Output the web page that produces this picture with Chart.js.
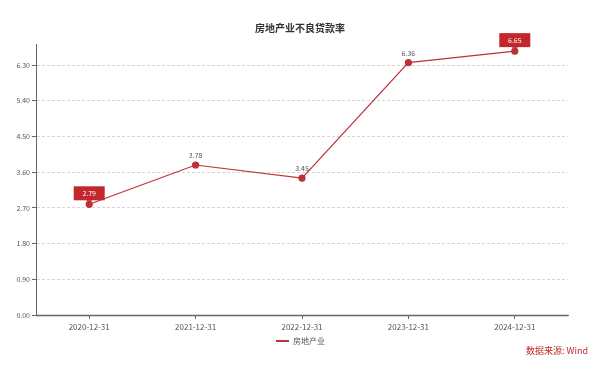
<!DOCTYPE html>
<html>
<head>
<meta charset="utf-8">
<script src="https://cdn.jsdelivr.net/npm/chart.js@4/dist/chart.umd.min.js"></script>
<style>
html,body{margin:0;padding:0;background:#fff;}
#wrap{width:600px;height:367px;position:relative;}
</style>
</head>
<body>
<div id="wrap"><canvas id="c" width="600" height="367"></canvas></div>
<script>
const categories = ["2020-12-31","2021-12-31","2022-12-31","2023-12-31","2024-12-31"];
const values = [2.79, 3.78, 3.45, 6.36, 6.65];
const yTicks = [0, 0.9, 1.8, 2.7, 3.6, 4.5, 5.4, 6.3];
const seriesName = "房地产业";
const titleText = "房地产业不良贷款率";
const sourceText = "数据来源: Wind";

const RED = '#bd3138';
const RED_DARK = '#c1272d';
const FONT = '"Noto Sans CJK SC","Noto Sans",sans-serif';

const deco = {
  id: 'deco',
  beforeDatasetsDraw(chart) {
    const ctx = chart.ctx, a = chart.chartArea;
    ctx.save();
    ctx.strokeStyle = '#666';
    ctx.lineWidth = 1;
    ctx.setLineDash([]);
    ctx.beginPath();
    ctx.moveTo(a.left + 0.5, a.top);
    ctx.lineTo(a.left + 0.5, a.bottom);
    ctx.stroke();
    ctx.lineWidth = 1.5;
    ctx.beginPath();
    ctx.moveTo(a.left, a.bottom + 0.5);
    ctx.lineTo(a.right, a.bottom + 0.5);
    ctx.stroke();
    ctx.restore();
  },
  afterDatasetsDraw(chart) {
    const ctx = chart.ctx;
    const meta = chart.getDatasetMeta(0);
    const maxV = Math.max(...values), minV = Math.min(...values);
    ctx.save();
    meta.data.forEach((pt, i) => {
      const v = values[i];
      const txt = v.toFixed(2);
      if (v === maxV || v === minV) {
        const w = 31, h = 14;
        const bx = pt.x - w / 2, by = pt.y - 4 - h;
        ctx.fillStyle = RED_DARK;
        ctx.fillRect(bx, by, w, h);
        ctx.beginPath();
        ctx.moveTo(pt.x - 3, by + h);
        ctx.lineTo(pt.x + 3, by + h);
        ctx.lineTo(pt.x, by + h + 3);
        ctx.closePath();
        ctx.fill();
        ctx.fillStyle = '#fff';
        ctx.font = '7px ' + FONT;
        ctx.textAlign = 'center';
        ctx.textBaseline = 'middle';
        ctx.fillText(txt, pt.x, by + h / 2 + 0.5);
      } else {
        ctx.fillStyle = '#555';
        ctx.font = '7px ' + FONT;
        ctx.textAlign = 'center';
        ctx.textBaseline = 'bottom';
        ctx.fillText(txt, pt.x, pt.y - 6);
      }
    });
    ctx.fillStyle = '#333';
    ctx.font = 'bold 10px ' + FONT;
    ctx.textAlign = 'center';
    ctx.textBaseline = 'middle';
    ctx.fillText(titleText, 300, 28);
    ctx.strokeStyle = RED;
    ctx.lineWidth = 2;
    ctx.beginPath();
    ctx.moveTo(276, 341);
    ctx.lineTo(289, 341);
    ctx.stroke();
    ctx.fillStyle = '#555';
    ctx.font = '8px ' + FONT;
    ctx.textAlign = 'left';
    ctx.fillText(seriesName, 293, 341);
    ctx.fillStyle = RED_DARK;
    ctx.font = '9px ' + FONT;
    ctx.textAlign = 'right';
    ctx.fillText(sourceText, 588, 351);
    ctx.restore();
  }
};

new Chart(document.getElementById('c'), {
  type: 'line',
  data: {
    labels: categories,
    datasets: [{
      label: seriesName,
      data: values,
      borderColor: RED,
      backgroundColor: RED,
      borderWidth: 1.2,
      pointRadius: 3,
      pointBackgroundColor: RED,
      pointBorderColor: RED,
      tension: 0
    }]
  },
  options: {
    responsive: false,
    animation: false,
    layout: { padding: { left: 0, right: 32, top: 44, bottom: 0 } },
    plugins: { legend: { display: false }, title: { display: false }, tooltip: { enabled: false } },
    scales: {
      x: {
        offset: true,
        afterFit(s) { s.height = 52; },
        border: { display: true, color: '#666', width: 1 },
        grid: { drawOnChartArea: false, drawTicks: true, tickLength: 4, color: '#666', offset: false },
        ticks: { color: '#555', font: { size: 8, family: FONT }, padding: 3, maxRotation: 0 }
      },
      y: {
        min: 0,
        max: 6.83,
        afterFit(s) { s.width = 36; },
        afterBuildTicks(s) { s.ticks = yTicks.map(v => ({ value: v })); },
        border: { display: true, color: '#666', width: 1, dash: [3, 2] },
        grid: { color: '#d4d4d4', drawTicks: true, tickLength: 4, tickColor: '#666', tickBorderDash: [] },
        ticks: { color: '#555', font: { size: 7, family: FONT }, padding: 2, callback: v => Number(v).toFixed(2) }
      }
    }
  },
  plugins: [deco]
});
</script>
</body>
</html>
